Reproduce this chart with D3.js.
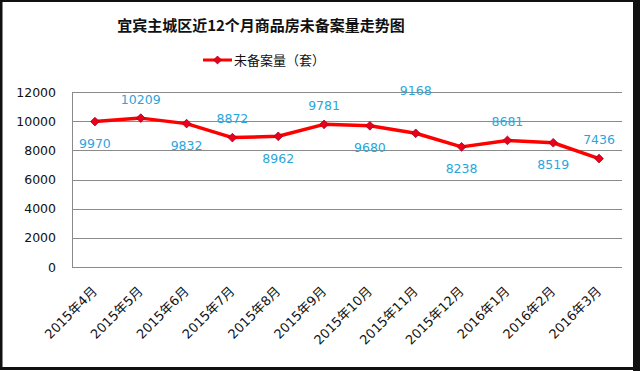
<!DOCTYPE html>
<html>
<head>
<meta charset="utf-8">
<script src="https://cdn.jsdelivr.net/npm/d3@7"></script>
<style>
  html, body { margin: 0; padding: 0; background: #fff; }
  svg { display: block; font-family: "DejaVu Sans", "Noto Sans CJK SC", sans-serif; }
</style>
</head>
<body>
<div id="chart"></div>
<script>
const title = '宜宾主城区近12个月商品房未备案量走势图';
const seriesName = '未备案量（套）';
const months = [
  '2015年4月', '2015年5月', '2015年6月', '2015年7月', '2015年8月', '2015年9月',
  '2015年10月', '2015年11月', '2015年12月', '2016年1月', '2016年2月', '2016年3月',
];
const unsold = [9970, 10209, 9832, 8872, 8962, 9781, 9680, 9168, 8238, 8681, 8519, 7436];
const yTicks = [0, 2000, 4000, 6000, 8000, 10000, 12000];

const width = 640;
const height = 371;
const margin = { top: 92, right: 18, bottom: 104, left: 72 };
const innerW = width - margin.left - margin.right;
const innerH = height - margin.top - margin.bottom;

// label placement: below for even points, above for odd, 9168 pushed high
const labelDy = (i) => (i === 7 ? -43 : i % 2 === 0 ? 22 : -19);

const svg = d3.select('#chart')
  .append('svg')
  .attr('width', width)
  .attr('height', height);

// outer frame
svg.append('rect')
  .attr('x', 1).attr('y', 0.5)
  .attr('width', width - 5).attr('height', height - 3)
  .attr('fill', '#fff')
  .attr('stroke', '#111')
  .attr('stroke-width', 3);
svg.append('rect')
  .attr('x', 633).attr('y', 0)
  .attr('width', 7).attr('height', height)
  .attr('fill', '#111');

svg.append('text')
  .attr('x', 261).attr('y', 31)
  .attr('text-anchor', 'middle')
  .attr('font-size', 15)
  .attr('font-weight', 'bold')
  .attr('font-family', '"Noto Sans CJK SC", sans-serif')
  .attr('fill', '#111')
  .text(title);

// legend
const leg = svg.append('g').attr('transform', 'translate(203,60)');
leg.append('line')
  .attr('x1', 0).attr('x2', 29)
  .attr('stroke', '#ff0000').attr('stroke-width', 3);
leg.append('path')
  .attr('d', d3.symbol(d3.symbolDiamond2, 40)())
  .attr('transform', 'translate(14.5,0)')
  .attr('fill', '#e8001c')
  .attr('stroke', '#b0001a')
  .attr('stroke-width', 0.8);
leg.append('text')
  .attr('x', 31).attr('y', 0)
  .attr('dy', '0.35em')
  .attr('font-size', 13)
  .attr('font-family', '"Noto Sans CJK SC", sans-serif')
  .attr('fill', '#111')
  .text(seriesName);

const g = svg.append('g').attr('transform', `translate(${margin.left},${margin.top})`);

const x = d3.scaleBand().domain(months).range([0, innerW]);
const y = d3.scaleLinear().domain([0, 12000]).range([innerH, 0]);

// gridlines
g.append('g')
  .selectAll('line')
  .data(yTicks)
  .join('line')
  .attr('x1', 0).attr('x2', innerW)
  .attr('y1', (d) => Math.round(y(d)) + 0.5)
  .attr('y2', (d) => Math.round(y(d)) + 0.5)
  .attr('stroke', '#8a8a8a')
  .attr('stroke-width', 1);

g.append('line')
  .attr('x1', 0.5).attr('x2', 0.5)
  .attr('y1', 0).attr('y2', innerH)
  .attr('stroke', '#8a8a8a');

const yAxis = g.append('g')
  .call(d3.axisLeft(y).tickValues(yTicks).tickFormat(d3.format('d')).tickSize(0).tickPadding(16));
yAxis.select('.domain').remove();
yAxis.selectAll('text')
  .attr('font-size', 12.5)
  .attr('font-family', '"DejaVu Sans", sans-serif')
  .attr('fill', '#111');

const xAxis = g.append('g')
  .attr('transform', `translate(0,${innerH})`)
  .call(d3.axisBottom(x).tickSize(0).tickPadding(0));
xAxis.select('.domain').remove();
xAxis.selectAll('text')
  .attr('font-size', 13)
  .attr('font-family', '"DejaVu Sans", "Noto Sans CJK SC", sans-serif')
  .attr('fill', '#111')
  .attr('dy', null)
  .attr('y', 0)
  .attr('transform', 'translate(3,25) rotate(-45)')
  .style('text-anchor', 'end');

const cx = (d, i) => x(months[i]) + x.bandwidth() / 2;

g.append('path')
  .datum(unsold)
  .attr('d', d3.line().x(cx).y((d) => y(d)))
  .attr('fill', 'none')
  .attr('stroke', '#ff0000')
  .attr('stroke-width', 3.5)
  .attr('stroke-linejoin', 'round');

g.selectAll('path.pt')
  .data(unsold)
  .join('path')
  .attr('class', 'pt')
  .attr('d', d3.symbol(d3.symbolDiamond2, 48)())
  .attr('transform', (d, i) => `translate(${cx(d, i)},${y(d)})`)
  .attr('fill', '#e8001c')
  .attr('stroke', '#a80018')
  .attr('stroke-width', 0.8);

g.selectAll('text.lbl')
  .data(unsold)
  .join('text')
  .attr('class', 'lbl')
  .attr('x', cx)
  .attr('y', (d, i) => y(d) + labelDy(i))
  .attr('text-anchor', 'middle')
  .attr('dy', '0.35em')
  .attr('font-size', 12.5)
  .attr('font-family', '"DejaVu Sans", sans-serif')
  .attr('fill', '#2aa6dc')
  .text((d) => d);
</script>
</body>
</html>
